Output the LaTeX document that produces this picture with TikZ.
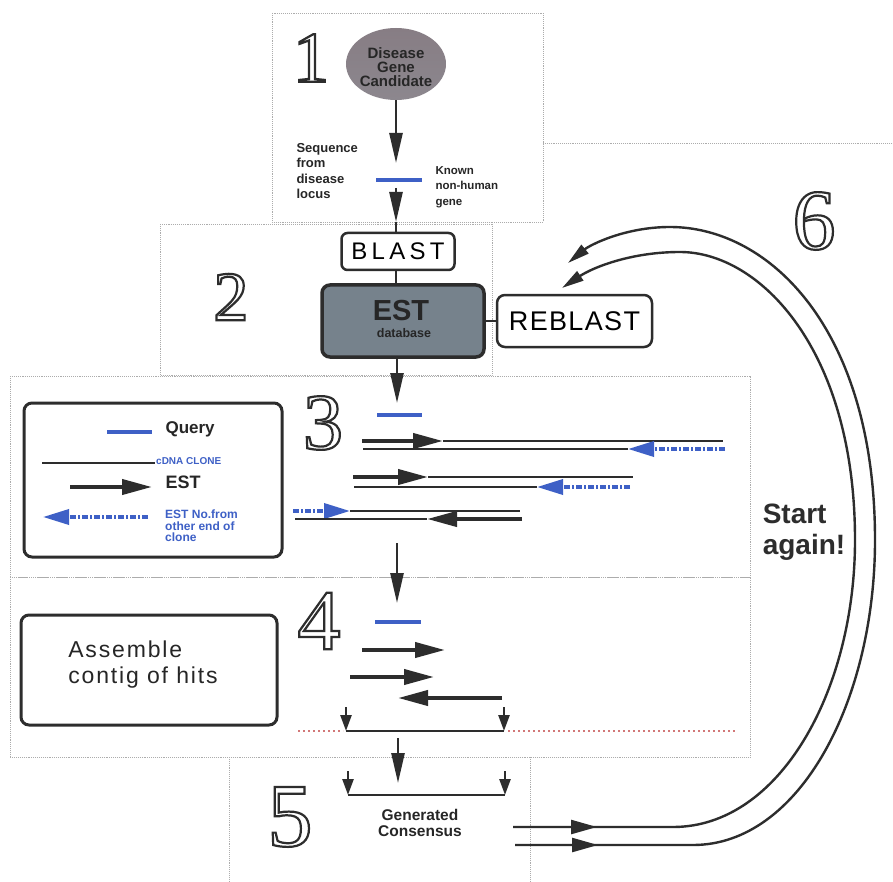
\documentclass[tikz,border=0pt]{standalone}
\usepackage{fontspec}
\setmainfont{Liberation Sans}
\newfontfamily\digitfont{Liberation Serif}
\newfontfamily\spacedA[LetterSpace=18]{Liberation Sans}
\newfontfamily\spacedB[LetterSpace=5]{Liberation Sans}
\newfontfamily\spacedC[LetterSpace=8]{Liberation Sans}
\usetikzlibrary{shapes.geometric,arrows.meta}
\definecolor{qblue}{RGB}{62,96,198}
\definecolor{darkline}{RGB}{45,45,45}
\definecolor{estfill}{RGB}{118,130,140}
\definecolor{dotred}{RGB}{210,120,120}
\newcommand\bigdigit[2]{{\fontsize{#1}{#1}\selectfont\digitfont\special{pdf:literal direct 1 Tr 2.2 w}#2\special{pdf:literal direct 0 Tr}}}
\begin{document}
\begin{tikzpicture}[x=1pt,y=-1pt,
  box/.style={draw=gray!65, densely dotted, line width=0.9pt},
  axis/.style={line width=2.6pt, draw=darkline},
  dn/.style={axis, -{Triangle[length=30pt,width=13pt]}},
  small/.style={axis, -{Triangle[length=16pt,width=11pt]}},
  clone/.style={line width=2.4pt, draw=darkline},
  estarrow/.style={line width=4pt, draw=darkline, -{Triangle[length=30pt,width=15pt]}},
  bluearrow/.style={line width=3.5pt, draw=qblue, dash pattern=on 6pt off 2pt on 2pt off 2pt, -{Triangle[length=26pt,width=15pt]}},
  qline/.style={line width=4pt, draw=qblue},
  roundbox/.style={draw=darkline, rounded corners=8pt, inner sep=0pt},
  loopline/.style={line width=2.4pt, draw=darkline},
  digit/.style={inner sep=0pt, text=darkline},
]
\useasboundingbox (0,0) rectangle (893,882);
\fill[white] (0,0) rectangle (893,882);

% dotted panels
\draw[box] (272,13) rectangle (543,222);
\draw[box] (543,143) -- (893,143);
\draw[box] (160,224) rectangle (492,375);
\draw[box] (10,376) rectangle (750,577);
\draw[box] (10,577) rectangle (750,757);
\draw[box] (229,757) -- (229,882);
\draw[box] (530,757) -- (530,882);

% digits
\node[digit] (d1) at (311,58) {\bigdigit{72}{1}};
\node[digit] (d2) at (231,297) {\bigdigit{70}{2}};
\node[digit] (d3) at (323,423) {\bigdigit{80}{3}};
\node[digit] (d4) at (319,621) {\bigdigit{86}{4}};
\node[digit] (d5) at (290,817) {\bigdigit{90}{5}};
\node[digit] (d6) at (814,221) {\bigdigit{86}{6}};

% panel 1
\node[ellipse, minimum width=100pt, minimum height=72pt, inner sep=0pt,
      top color={rgb,255:red,135;green,125;blue,132}, middle color={rgb,255:red,228;green,222;blue,225},
      bottom color={rgb,255:red,140;green,135;blue,142}] (cand) at (396,64) {};
\node[align=center, font=\bfseries\fontsize{15}{14}\selectfont, text=black!85] (candtxt) at (396,67) {Disease\\Gene\\Candidate};
\node[anchor=west, align=left, font=\bfseries\fontsize{13}{15.3}\selectfont, text=black!85] (seqtxt) at (293,171) {Sequence\\from\\disease\\locus};
\coordinate (qa) at (376,180); \coordinate (qb) at (422,180);
\draw[qline] (qa) -- (qb);
\node[anchor=west, align=left, font=\bfseries\fontsize{11.5}{15.5}\selectfont, text=black!85] (knowntxt) at (432,187) {Known\\non-human\\gene};
\coordinate (a1) at (396,163);
\draw[dn] (cand.south) -- (a1);
\coordinate (a2s) at (396,188);
\coordinate (a2t) at (396,222);
\draw[dn] (a2s) -- (a2t);

% panel 2
\node[roundbox, line width=2.5pt, rounded corners=6pt, minimum width=113pt, minimum height=37pt,
      font=\spacedA\fontsize{24}{24}\selectfont] (blast) at (398,251.5) {BLAST};
\draw[axis] (a2t) -- (blast.north -| a2t);
\node[roundbox, line width=3.5pt, fill=estfill, minimum width=162pt, minimum height=72pt] (est) at (403,321) {};
\node[font=\bfseries\fontsize{29}{29}\selectfont, text=black!85, inner sep=0pt] (estlbl) at (401,311) {EST};
\node[font=\bfseries\fontsize{12.5}{12.5}\selectfont, text=black!85, inner sep=0pt] (estdb) at (404,333) {database};
\draw[axis] (blast.south -| a2t) -- (est.north -| a2t);
\node[roundbox, line width=2.5pt, minimum width=155pt, minimum height=52pt,
      font=\spacedB\fontsize{27}{27}\selectfont] (reblast) at (574.5,321) {REBLAST};
\draw[axis, line width=2pt] (est.east) -- (reblast.west);
\coordinate (a3) at (397,403);
\draw[dn] (est.south -| a3) -- (a3);

% panel 3 legend
\node[roundbox, line width=3pt, minimum width=258pt, minimum height=154pt] (legend) at (153,480) {};
\coordinate (lq1) at (107,432); \coordinate (lq2) at (152,432);
\draw[qline] (lq1) -- (lq2);
\node[anchor=west, font=\bfseries\fontsize{17}{17}\selectfont, text=black!85] (lqtxt) at (162,429) {Query};
\coordinate (lc1) at (42,463); \coordinate (lc2) at (155,463);
\draw[clone] (lc1) -- (lc2);
\node[anchor=west, font=\bfseries\fontsize{10}{10}\selectfont, text=qblue, inner sep=1pt] (lctxt) at (155,461) {cDNA CLONE};
\coordinate (le1) at (70,487); \coordinate (le2) at (152,487);
\draw[estarrow] (le1) -- (le2);
\node[anchor=west, font=\bfseries\fontsize{18}{18}\selectfont, text=black!85] (letxt) at (162,482) {EST};
\coordinate (lb1) at (148,517); \coordinate (lb2) at (43,517);
\draw[bluearrow] (lb1) -- (lb2);
\node[anchor=west, align=left, font=\bfseries\fontsize{12}{11.5}\selectfont, text=qblue, inner sep=1pt] (lbtxt) at (164,526) {EST No.from\\other end of\\clone};

% panel 3 hits
\coordinate (q3a) at (377,415); \coordinate (q3b) at (422,415);
\draw[qline] (q3a) -- (q3b);
% row 1
\coordinate (r1a) at (362,441); \coordinate (r1b) at (443,441); \coordinate (r1c) at (723,441);
\draw[clone] (r1b) -- (r1c);
\draw[estarrow] (r1a) -- (r1b);
\coordinate (r1d) at (363,449); \coordinate (r1e) at (628,449); \coordinate (r1f) at (725,449);
\draw[clone] (r1d) -- (r1e);
\draw[bluearrow] (r1f) -- (r1e);
% row 2
\coordinate (r2a) at (353,477); \coordinate (r2b) at (428,477); \coordinate (r2c) at (633,477);
\draw[clone] (r2b) -- (r2c);
\draw[estarrow] (r2a) -- (r2b);
\coordinate (r2d) at (354,487); \coordinate (r2e) at (537,487); \coordinate (r2f) at (630,487);
\draw[clone] (r2d) -- (r2e);
\draw[bluearrow] (r2f) -- (r2e);
% row 3
\coordinate (r3a) at (293,511); \coordinate (r3b) at (350,511); \coordinate (r3c) at (520,511);
\draw[clone] (r3b) -- (r3c);
\draw[bluearrow] (r3a) -- (r3b);
\coordinate (r3d) at (295,519); \coordinate (r3e) at (427,519); \coordinate (r3f) at (522,519);
\draw[clone] (r3d) -- (r3e);
\draw[estarrow] (r3f) -- (r3e);
\coordinate (a4s) at (397,543); \coordinate (a4t) at (397,603);
\draw[dn] (a4s) -- (a4t);

% panel 4
\node[roundbox, line width=3pt, minimum width=256pt, minimum height=110pt] (assemble) at (149,670) {};
\node[align=left, font=\spacedC\fontsize{23}{26}\selectfont, text=black!85] (asmtxt) at (143,665) {Assemble\\contig of hits};
\coordinate (q4a) at (375,622); \coordinate (q4b) at (421,622);
\draw[qline] (q4a) -- (q4b);
\coordinate (h1a) at (362,650); \coordinate (h1b) at (445,650);
\draw[estarrow] (h1a) -- (h1b);
\coordinate (h2a) at (350,677); \coordinate (h2b) at (434,677);
\draw[estarrow] (h2a) -- (h2b);
\coordinate (h3a) at (502,698); \coordinate (h3b) at (398,698);
\draw[estarrow] (h3a) -- (h3b);
\coordinate (m1) at (346,731); \coordinate (m2) at (504,731);
\draw[small] (346,707) -- (m1);
\draw[small] (504,707) -- (m2);
\draw[axis] (m1) -- (m2);
\draw[dotred, line width=2.2pt, dash pattern=on 2pt off 3pt] (298,731) -- (343,731);
\draw[dotred, line width=2.2pt, dash pattern=on 2pt off 3pt] (508,731) -- (735,731);
\coordinate (a5s) at (398,738); \coordinate (a5t) at (398,783);
\draw[dn] (a5s) -- (a5t);

% panel 5
\coordinate (c1) at (348,795); \coordinate (c2) at (505,795);
\draw[small] (348,771) -- (c1);
\draw[small] (505,771) -- (c2);
\draw[axis] (c1) -- (c2);
\node[align=center, font=\bfseries\fontsize{15.5}{16.5}\selectfont, text=black!85] (constxt) at (420,823) {Generated\\Consensus};

% panel 6: loop back
\coordinate (o1) at (515,845); \coordinate (o2) at (693,845); \coordinate (oend) at (568,263);
\coordinate (i1) at (513,827); \coordinate (i2) at (673,827); \coordinate (iend) at (562,288);
\draw[loopline, -{Triangle[length=22pt,width=11pt]}] (o1) -- (o2)
  .. controls (800,845) and (875,700) .. (875,540)
  .. controls (875,330) and (770,227) .. (670,227)
  .. controls (625,227) and (590,245) .. (oend);
\draw[loopline, -{Triangle[length=22pt,width=11pt]}] (i1) -- (i2)
  .. controls (780,827) and (855,690) .. (855,540)
  .. controls (855,350) and (760,252) .. (680,252)
  .. controls (630,252) and (592,268) .. (iend);
\draw[loopline, -{Triangle[length=26pt,width=14pt]}] (o1) -- (598,845);
\draw[loopline, -{Triangle[length=26pt,width=14pt]}] (i1) -- (597,827);
\node[align=left, font=\bfseries\fontsize{28}{31}\selectfont, text=darkline] (again) at (804,532) {Start\\again!};
\end{tikzpicture}
\end{document}
